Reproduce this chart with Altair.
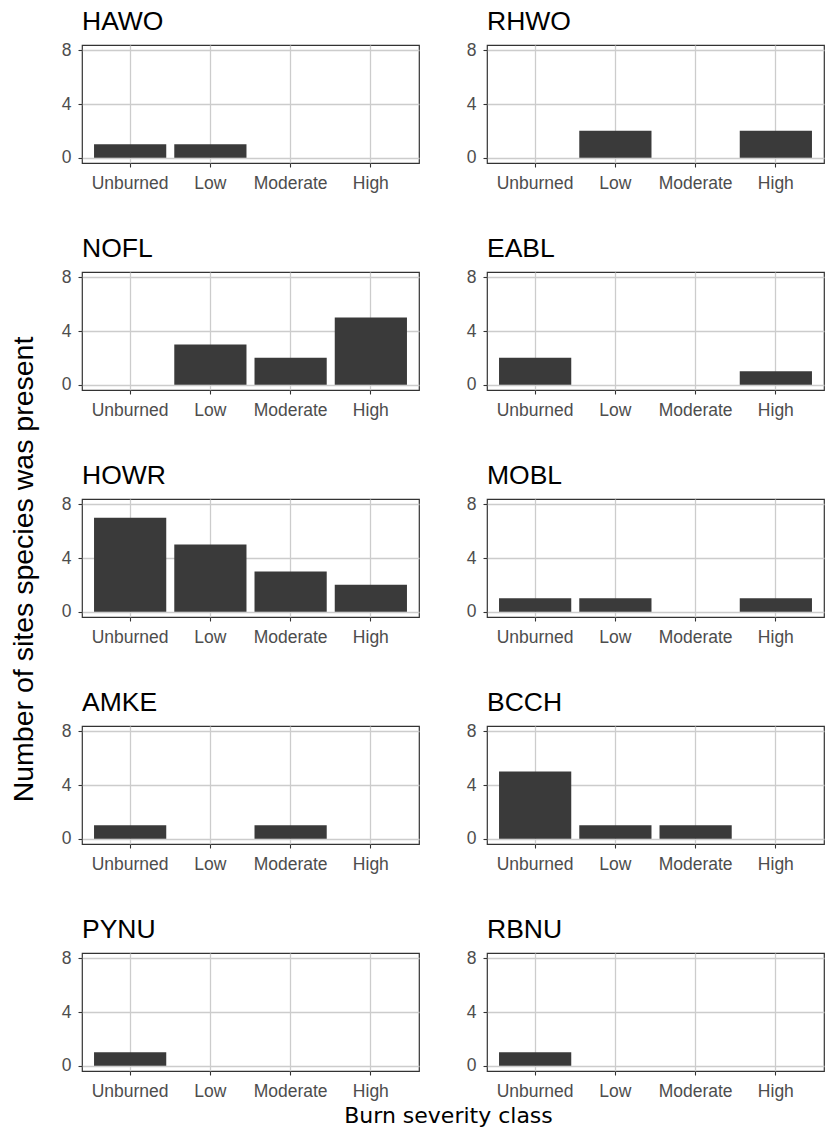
import altair as alt
import pandas as pd

severity = ["Unburned", "Low", "Moderate", "High"]
species = ["HAWO", "RHWO", "NOFL", "EABL", "HOWR", "MOBL", "AMKE", "BCCH", "PYNU", "RBNU"]

hawo = [1, 1, 0, 0]
rhwo = [0, 2, 0, 2]
nofl = [0, 3, 2, 5]
eabl = [2, 0, 0, 1]
howr = [7, 5, 3, 2]
mobl = [1, 1, 0, 1]
amke = [1, 0, 1, 0]
bcch = [5, 1, 1, 0]
pynu = [1, 0, 0, 0]
rbnu = [1, 0, 0, 0]

counts = {"HAWO": hawo, "RHWO": rhwo, "NOFL": nofl, "EABL": eabl, "HOWR": howr,
          "MOBL": mobl, "AMKE": amke, "BCCH": bcch, "PYNU": pynu, "RBNU": rbnu}

rows = []
for sp in species:
    for sev, c in zip(severity, counts[sp]):
        rows.append({"species": sp, "severity": sev, "count": c})
df = pd.DataFrame(rows)

W, H = 337, 118
FONT = "Liberation Sans"


def panel(sp, ytitle=False, xtitle=False):
    yaxis = dict(values=[0, 4, 8], title=None)
    if ytitle:
        yaxis = dict(values=[0, 4, 8], title="Number of sites species was present",
                     titleX=-50, titleY=524, titleBaseline="alphabetic", titleAngle=270,
                     titleFont=FONT, titleFontSize=28.5, titleFontWeight="normal",
                     titleColor="black", titleAlign="center")
    xaxis = dict(title=None, labelAngle=0, grid=True)
    if xtitle:
        xaxis = dict(title="Burn severity class", labelAngle=0, grid=True,
                     titleX=366, titleY=51,
                     titleBaseline="alphabetic", titleAlign="center",
                     titleFont="DejaVu Sans", titleFontSize=22, titleFontWeight="normal",
                     titleColor="black")
    return (
        alt.Chart(df, title=alt.TitleParams(sp, anchor="start", frame="group", fontSize=26.5,
                                            font=FONT, fontWeight="normal", color="black",
                                            baseline="alphabetic", offset=-15))
        .transform_filter(alt.datum.species == sp)
        .mark_bar(color="#3a3a3a")
        .encode(
            x=alt.X("severity:N", sort=severity,
                    scale=alt.Scale(domain=severity, paddingInner=0.1, paddingOuter=0.15),
                    axis=alt.Axis(**xaxis)),
            y=alt.Y("count:Q", scale=alt.Scale(domain=[-0.4, 8.4], nice=False, zero=False),
                    axis=alt.Axis(**yaxis)),
        )
        .properties(width=W, height=H)
    )


panels = [panel(sp, ytitle=(i == 0), xtitle=(i == 8)) for i, sp in enumerate(species)]

chart = (
    alt.concat(*panels, columns=2, spacing={"row": 109, "column": 68}, bounds="flush")
    .properties(padding={"left": 0, "top": 0, "right": 0, "bottom": 0})
    .configure_view(stroke="#333333", strokeWidth=1.2)
    .configure_axis(
        gridColor="#cccccc", gridWidth=1.3, domain=False,
        tickColor="#333333", tickSize=4, tickWidth=1.1,
        labelFont=FONT, labelFontSize=17.5, labelColor="#4d4d4d", labelPadding=7,
    )
)

chart.save("out.html", embed_options={"renderer": "svg", "actions": False})
